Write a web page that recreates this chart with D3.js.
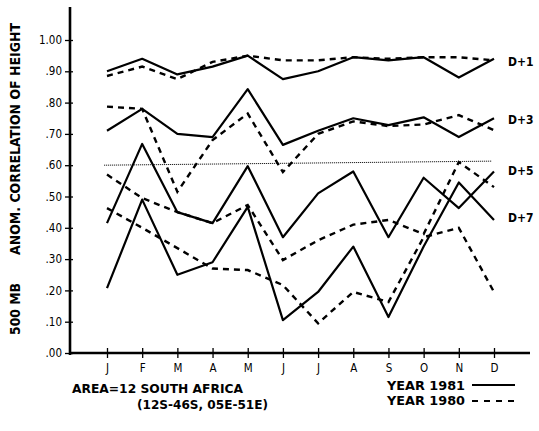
<!DOCTYPE html>
<html><head><meta charset="utf-8">
<script src="https://cdn.jsdelivr.net/npm/d3@7"></script>
<style>body{margin:0;background:#fff}svg{display:block}</style>
</head><body>
<svg id="c" width="539" height="431"></svg>
<script>
const months = ["J","F","M","A","M","J","J","A","S","O","N","D"];
const yTicks = [0,0.1,0.2,0.3,0.4,0.5,0.6,0.7,0.8,0.9,1.0];
const yTickLabels = [".00",".10",".20",".30",".40",".50",".60",".70",".80",".90","1.00"];
const refValues = [0.60,0.613];
// 1981 (solid)
const d1_1981 = [0.90,0.94,0.89,0.915,0.95,0.875,0.90,0.945,0.935,0.945,0.88,0.94];
const d3_1981 = [0.71,0.78,0.70,0.69,0.843,0.665,0.71,0.75,0.728,0.753,0.69,0.75];
const d5_1981 = [0.415,0.668,0.45,0.415,0.597,0.37,0.51,0.58,0.37,0.56,0.463,0.58];
const d7_1981 = [0.207,0.49,0.25,0.29,0.467,0.105,0.195,0.34,0.115,0.34,0.545,0.425];
// 1980 (dashed)
const d1_1980 = [0.885,0.915,0.875,0.93,0.95,0.935,0.935,0.945,0.94,0.945,0.945,0.935];
const d3_1980 = [0.787,0.78,0.515,0.68,0.765,0.578,0.70,0.74,0.725,0.73,0.76,0.712];
const d5_1980 = [0.57,0.495,0.45,0.415,0.473,0.297,0.36,0.41,0.425,0.38,0.61,0.53];
const d7_1980 = [0.463,0.40,0.335,0.27,0.265,0.217,0.095,0.195,0.163,0.37,0.40,0.195];
const seriesLabels = ["D+1","D+3","D+5","D+7"];
const labelValues = [0.93,0.745,0.58,0.43];
const legendLabels = ["YEAR 1981","YEAR 1980"];
const areaText = ["AREA=12 SOUTH AFRICA","(12S-46S, 05E-51E)"];
const yLabelParts = ["500 MB","ANOM. CORRELATION OF HEIGHT"];

const svg = d3.select("#c");
const FONT = "'DejaVu Sans Condensed','DejaVu Sans',sans-serif";
const x = d3.scalePoint().domain(d3.range(12)).range([107,494]);
const y = d3.scaleLinear().domain([0,1]).range([353,40]);

// reference dotted line
svg.append("line").attr("x1",104).attr("x2",492)
  .attr("y1",y(refValues[0])).attr("y2",y(refValues[1]))
  .attr("stroke","#222").attr("stroke-width",1).attr("stroke-dasharray","1.2,0.8");

const line = d3.line().x((d,i)=>x(i)).y(d=>y(d));
const solid = [d1_1981,d3_1981,d5_1981,d7_1981];
const dashed = [d1_1980,d3_1980,d5_1980,d7_1980];
solid.forEach(s=>svg.append("path").attr("d",line(s)).attr("fill","none")
  .attr("stroke","#000").attr("stroke-width",2.2).attr("stroke-linejoin","round"));
dashed.forEach(s=>svg.append("path").attr("d",line(s)).attr("fill","none")
  .attr("stroke","#000").attr("stroke-width",2.4).attr("stroke-dasharray","6,5"));

// axes
const ya = d3.axisLeft(y).tickValues(yTicks).tickFormat((d,i)=>yTickLabels[i]).tickSize(5).tickPadding(4);
const yg = svg.append("g").attr("transform","translate(70,0)").call(ya);
yg.select(".domain").remove();
yg.selectAll(".tick line").attr("x1",-5).attr("x2",3).attr("stroke-width",1.3);
yg.selectAll(".tick text").attr("font-family",FONT).attr("font-size",11.5).attr("fill","#000").attr("x",-8);
svg.append("line").attr("x1",70).attr("x2",70).attr("y1",7).attr("y2",355)
  .attr("stroke","#000").attr("stroke-width",2.6);

const xa = d3.axisBottom(x).tickFormat(i=>months[i]).tickSize(5).tickPadding(6);
const xg = svg.append("g").attr("transform","translate(0,353)").call(xa);
xg.select(".domain").remove();
xg.selectAll(".tick line").attr("y1",-5).attr("y2",5).attr("stroke-width",1.3);
xg.selectAll(".tick text").attr("font-family",FONT).attr("font-size",11.5).attr("fill","#000");
svg.append("line").attr("x1",69).attr("x2",530).attr("y1",353).attr("y2",353)
  .attr("stroke","#000").attr("stroke-width",2.6);

// y label
const yl = svg.append("g").attr("font-family",FONT).attr("font-size",14).attr("font-weight","bold");
yl.append("text").attr("transform","translate(20,335) rotate(-90)")
  .attr("textLength",52).attr("lengthAdjust","spacingAndGlyphs").text(yLabelParts[0]);
yl.append("text").attr("transform","translate(20,255) rotate(-90)")
  .attr("textLength",232).attr("lengthAdjust","spacingAndGlyphs").text(yLabelParts[1]);

// series labels
seriesLabels.forEach((t,i)=>svg.append("text").attr("x",508).attr("y",y(labelValues[i])+4)
  .attr("font-family",FONT).attr("font-size",12).attr("font-weight","bold").text(t));

// legend
const lg = svg.append("g").attr("font-family",FONT).attr("font-size",12).attr("font-weight","bold");
lg.append("text").attr("x",387).attr("y",390).attr("textLength",78).attr("lengthAdjust","spacingAndGlyphs").text(legendLabels[0]);
lg.append("text").attr("x",387).attr("y",405).attr("textLength",78).attr("lengthAdjust","spacingAndGlyphs").text(legendLabels[1]);
svg.append("line").attr("x1",472).attr("x2",515).attr("y1",385).attr("y2",385).attr("stroke","#000").attr("stroke-width",2);
svg.append("line").attr("x1",472).attr("x2",515).attr("y1",401).attr("y2",401).attr("stroke","#000").attr("stroke-width",2.2).attr("stroke-dasharray","6,6");

// area text
lg.append("text").attr("x",72).attr("y",393).attr("textLength",171).attr("lengthAdjust","spacingAndGlyphs").text(areaText[0]);
lg.append("text").attr("x",137).attr("y",409).attr("textLength",131).attr("lengthAdjust","spacingAndGlyphs").text(areaText[1]);
</script>
</body></html>
